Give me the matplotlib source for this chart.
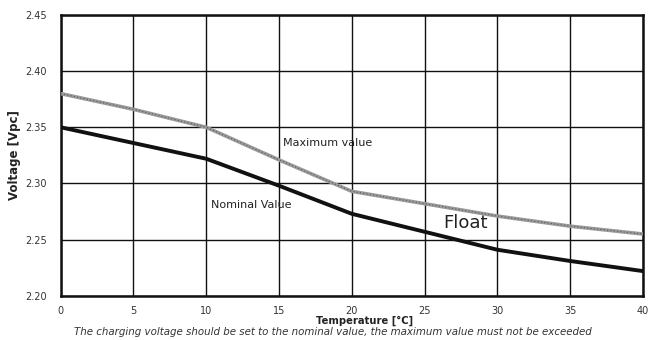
import matplotlib.pyplot as plt
import numpy as np

# charging voltage per cell vs. temperature
temperature = [0, 5, 10, 15, 20, 25, 30, 35, 40]
max_value = [2.380, 2.366, 2.350, 2.321, 2.293, 2.282, 2.271, 2.262, 2.255]
nominal_value = [2.350, 2.336, 2.322, 2.298, 2.273, 2.257, 2.241, 2.231, 2.222]

x_ticks = [0, 5, 10, 15, 20, 25, 30, 35, 40]
y_ticks = [2.20, 2.25, 2.30, 2.35, 2.40, 2.45]

fig = plt.figure(figsize=(6.6, 3.4), dpi=100)
ax = fig.add_axes([0.092, 0.130, 0.882, 0.826])

ax.plot(temperature, max_value, color="#9a9a9a", lw=2.6, solid_capstyle="butt", zorder=3)
ax.plot(temperature, max_value, color="#5a5a5a", lw=0.8, ls=(0, (1, 2)), zorder=4)
ax.plot(temperature, nominal_value, color="#111111", lw=2.8, zorder=3)

ax.set_xlim(0, 40)
ax.set_ylim(2.20, 2.45)
ax.set_xticks(x_ticks)
ax.set_yticks(y_ticks)
ax.set_yticklabels(["%.2f" % v for v in y_ticks])
ax.grid(True, color="#111111", lw=1.0)
ax.set_axisbelow(True)
ax.tick_params(length=0, labelsize=7, colors="#333333")
ax.tick_params(axis="x", pad=7)
ax.tick_params(axis="y", pad=10)
for s in ax.spines.values():
    s.set_linewidth(1.8)
    s.set_color("#111111")

ax.text(15.3, 2.336, "Maximum value", fontsize=8, color="#222222", va="center")
ax.text(10.3, 2.281, "Nominal Value", fontsize=8, color="#222222", va="center")
ax.text(26.3, 2.265, "Float", fontsize=13, color="#222222", va="center")

ax.set_ylabel("Voltage [Vpc]", fontsize=8.5, fontweight="bold", color="#222222", labelpad=3)
ax.set_xlabel("Temperature [°C]", fontsize=7.2, fontweight="bold", color="#222222", labelpad=0)
ax.xaxis.set_label_coords(0.522, -0.07)
fig.text(0.505, 0.008, "The charging voltage should be set to the nominal value, the maximum value must not be exceeded",
         fontsize=7.4, style="italic", color="#333333", ha="center", va="bottom")

fig.savefig("out.png", dpi=100, facecolor="white")
